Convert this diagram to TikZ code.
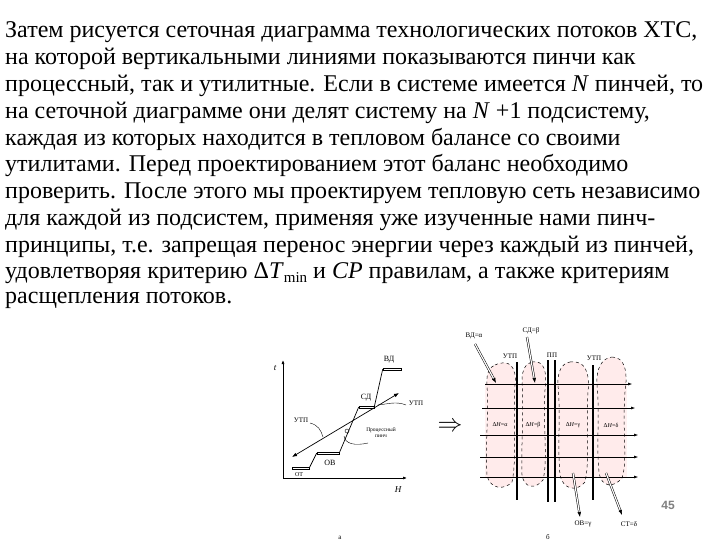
\documentclass[tikz,border=0pt]{standalone}
\usepackage{fontspec}
\setmainfont{Liberation Serif}
\newfontfamily\lsans{Liberation Sans}
\usetikzlibrary{arrows.meta}
\begin{document}
\begin{tikzpicture}[x=1pt,y=-1pt,
  para/.style={anchor=west,inner sep=0,font=\fontsize{24}{24}\selectfont},
  sm/.style={inner sep=0,font=\fontsize{7}{7}\selectfont},
  bar/.style={draw,line width=0.5pt,minimum height=2.5pt,inner sep=0},
  ln/.style={line width=0.7pt},
  blob/.style={draw,dashed,line width=0.5pt,fill=red!8},
  dbl/.style={double,double distance=1.2pt,line width=0.5pt,-{Latex[length=5pt]}}]
\useasboundingbox (0,0) rectangle (720,540);
\fill[white] (0,0) rectangle (720,540);
\node[para] (l1) at (5,32) {Затем рисуется сеточная диаграмма технологических потоков ХТС,};
\node[para] (l2) at (5,59) {на которой вертикальными линиями показываются пинчи как};
\node[para] (l3) at (5,86) {процессный, так и утилитные. Если в системе имеется \textit{N} пинчей, то};
\node[para] (l4) at (5,113) {на сеточной диаграмме они делят систему на \textit{N} +1 подсистему,};
\node[para] (l5) at (5,139) {каждая из которых находится в тепловом балансе со своими};
\node[para] (l6) at (5,166) {утилитами. Перед проектированием этот баланс необходимо};
\node[para] (l7) at (5,193) {проверить. После этого мы проектируем тепловую сеть независимо};
\node[para] (l8) at (5,220) {для каждой из подсистем, применяя уже изученные нами пинч-};
\node[para] (l9) at (5,247) {принципы, т.е. запрещая перенос энергии через каждый из пинчей,};
\node[para] (l10) at (5,273) {удовлетворяя критерию Δ\textit{T}\raisebox{-0.35ex}{\fontsize{15}{15}\selectfont min} и \textit{CP} правилам, а также критериям};
\node[para] (l11) at (5,300) {расщепления потоков.};
% diagram a
\coordinate (o) at (283,478);
\draw[ln,-{Latex[length=4pt]}] (o) -- (283,360) coordinate (ya);
\draw[ln,-{Latex[length=4pt]}] (o) -- (407,478) coordinate (xa);
\node[sm,font=\fontsize{9}{9}\selectfont\itshape] (tl) at (275,368) {t};
\node[sm,font=\fontsize{9}{9}\selectfont\itshape] (hl) at (398,490) {H};
\node[bar,minimum width=17pt] (b1) at (300.5,468) {};
\node[bar,minimum width=22pt] (b2) at (328,453) {};
\node[bar,minimum width=15pt] (b3) at (366.5,407) {};
\node[bar,minimum width=18pt] (b4) at (392,369) {};
\draw[ln] (b1.east) -- (b2.west) (b2.east) -- (b3.west) (b3.east) -- (b4.west);
\node[sm,font=\fontsize{6}{6}\selectfont] (lot) at (299,475) {ОТ};
\node[sm,font=\fontsize{8}{8}\selectfont] (lov) at (330,463) {ОВ};
\node[sm,font=\fontsize{8}{8}\selectfont] (lsd) at (366,398) {СД};
\node[sm,font=\fontsize{8}{8}\selectfont] (lvd) at (389,360) {ВД};
\coordinate (p1) at (292,457); \coordinate (p2) at (399,393);
\draw[ln,{Latex[length=5pt]}-{Latex[length=5pt]}] (p1) -- (p2);
\draw[line width=0.4pt] (347,431) circle (2pt);
\node[sm] (lu1) at (301,420) {УТП};
\node[sm] (lu2) at (416,403) {УТП};
\node[sm,font=\fontsize{5.5}{6}\selectfont,align=center] (lpp) at (381,433) {Процессный\\пинч};
\draw[line width=0.4pt] (310,423) .. controls (318,425) and (321,430) .. (323,437);
\draw[line width=0.4pt] (406,405) .. controls (396,401) and (388,404) .. (378,405);
\draw[line width=0.4pt] (368,443) .. controls (355,446) and (345,444) .. (344,436);
\node[sm] (la) at (340,538) {а};
% implication arrow
\node[inner sep=0,font=\fontsize{30}{30}\selectfont] (imp) at (450,427) {$\Rightarrow$};
% diagram b
\fill[red!6] (485,383) rectangle (627,478);
\path[blob] (495,365) .. controls (510,358) and (517,368) .. (515,385) .. controls (513,420) and (517,460) .. (512,482) .. controls (505,490) and (490,490) .. (487,475) .. controls (485,440) and (489,420) .. (487,385) .. controls (486,372) and (490,367) .. (495,365);
\path[blob] (532,362) .. controls (545,360) and (547,372) .. (545,390) .. controls (543,430) and (548,460) .. (543,480) .. controls (535,490) and (524,488) .. (522,475) .. controls (521,440) and (524,420) .. (522,380) .. controls (522,370) and (526,363) .. (532,362);
\path[blob] (570,362) .. controls (585,360) and (590,372) .. (588,392) .. controls (586,430) and (590,460) .. (585,482) .. controls (577,492) and (563,490) .. (560,475) .. controls (557,440) and (561,420) .. (558,385) .. controls (557,372) and (562,363) .. (570,362);
\path[blob] (612,357) .. controls (625,357) and (628,372) .. (625,392) .. controls (622,430) and (628,460) .. (622,478) .. controls (614,488) and (601,488) .. (599,472) .. controls (596,440) and (600,420) .. (597,385) .. controls (596,368) and (602,358) .. (612,357);
\foreach \y/\a/\b/\d in {384/485/632/r,408/482/635/r,435/480/638/l,457/480/638/l,477/480/638/l}{
  \coordinate (hA\y) at (\a,\y); \coordinate (hB\y) at (\b,\y);
  \ifx l\d \draw[line width=0.5pt,{Latex[length=4pt]}-] (hA\y) -- (hB\y);
  \else \draw[line width=0.5pt,-{Latex[length=4pt]}] (hA\y) -- (hB\y); \fi}
\draw[line width=1.2pt] (517,362) coordinate (v1a) -- (517,500) coordinate (v1b);
\draw[line width=1.2pt] (548,360) coordinate (v2a) -- (548,502) coordinate (v2b);
\draw[line width=1.2pt] (555,360) coordinate (v3a) -- (555,502) coordinate (v3b);
\draw[line width=1.2pt] (593,365) coordinate (v4a) -- (593,500) coordinate (v4b);
\node[sm] (lu3) at (510,356) {УТП};
\node[sm] (lpp2) at (552,355) {ПП};
\node[sm] (lu4) at (594,358) {УТП};
\node[sm,font=\fontsize{6}{6}\selectfont] (dh1) at (500,425) {Δ\textit{H}=α};
\node[sm,font=\fontsize{6}{6}\selectfont] (dh2) at (533,425) {Δ\textit{H}=β};
\node[sm,font=\fontsize{6}{6}\selectfont] (dh3) at (573,425) {Δ\textit{H}=γ};
\node[sm,font=\fontsize{6}{6}\selectfont] (dh4) at (611,425) {Δ\textit{H}=δ};
\node[sm] (lvd2) at (474,336) {ВД=α};
\node[sm] (lsd2) at (531,331) {СД=β};
\node[sm] (lov2) at (583,524) {ОВ=γ};
\node[sm] (lst2) at (629,524) {СТ=δ};
\coordinate (a1) at (475,344); \coordinate (a2) at (496,383);
\coordinate (a3) at (527,337); \coordinate (a4) at (535,383);
\coordinate (a5) at (573,473); \coordinate (a6) at (580,517);
\coordinate (a7) at (606,473); \coordinate (a8) at (622,515);
\draw[dbl] (a1) -- (a2); \draw[dbl] (a3) -- (a4);
\draw[dbl] (a5) -- (a6); \draw[dbl] (a7) -- (a8);
\node[sm] (lb) at (548,537) {б};
\node[inner sep=0,font=\lsans\bfseries\fontsize{12}{12}\selectfont,text=gray] (pg) at (668,505) {45};
\end{tikzpicture}
\end{document}
